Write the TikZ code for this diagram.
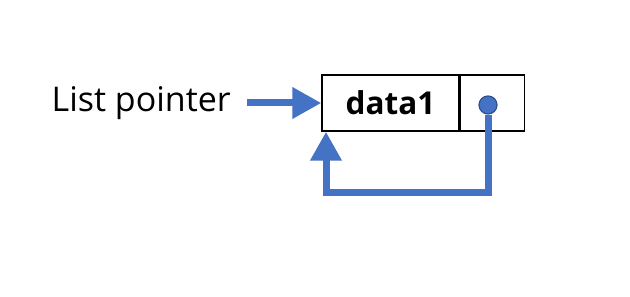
\documentclass[tikz,border=0pt]{standalone}
\usepackage{fontspec}
\setmainfont{Open Sans}
\usetikzlibrary{positioning,arrows.meta}
\definecolor{ptrblue}{HTML}{4472C4}
\definecolor{ptredge}{HTML}{2F528F}
\begin{document}
\begin{tikzpicture}[x=1pt, y=1pt,
    cell/.style={draw, line width=1.4pt, minimum height=56pt, inner sep=0pt},
    ptrline/.style={ptrblue, line width=7pt, line join=miter, -{Triangle[length=29pt, width=30pt]}}]
        \useasboundingbox (0,0) rectangle (630,297);
        % Nodes
        \node[cell, minimum width=137pt, font=\fontsize{31.5}{37}\selectfont\bfseries] (data) at (390.5,194) {data1};
        \node[cell, minimum width=64pt, right=0pt of data] (next) {};
        \node[font=\fontsize{34}{40}\selectfont, left=87pt of data] (head) {List pointer};
        \node[circle, fill=ptrblue, draw=ptredge, line width=1.2pt, minimum size=18pt, inner sep=0pt] (dot) at (488,192) {};

        % Flow
        \coordinate (corner1) at (488,104);
        \coordinate (corner2) at (326,104);
        \draw[ptrline] (head.east -| 247,0) -- (data.west);
        \draw[ptrline] (dot.south) -- (corner1) -- (corner2) -- (corner2 |- data.south);
\end{tikzpicture}
\end{document}
